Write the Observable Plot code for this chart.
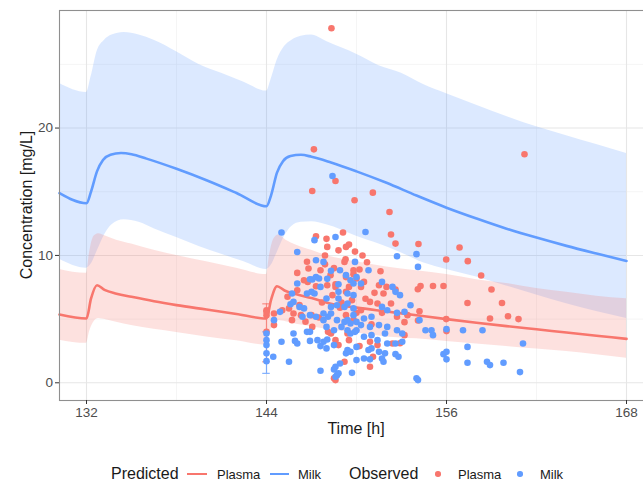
<!DOCTYPE html>
<html>
<head>
<meta charset="utf-8">
<script src="https://cdn.jsdelivr.net/npm/d3@7"></script>
<script src="https://cdn.jsdelivr.net/npm/@observablehq/plot@0.6"></script>
<style>
  html, body { margin: 0; padding: 0; background: #fff; overflow: hidden; }
  #wrap { position: relative; width: 643px; height: 483px; overflow: hidden; font-family: "Liberation Sans", Arial, sans-serif; color: #1a1a1a; }
  #wrap svg { position: absolute; left: 0; top: 0; max-width: none !important; }
  .abs { position: absolute; white-space: nowrap; line-height: 1; }
</style>
</head>
<body>
<div id="wrap"></div>
<script>
// ---- axis ticks ----
const xMajor = [132, 144, 156, 168];
const xMinor = [138, 150, 162];
const yMajor = [0, 10, 20];
const yMinor = [5, 15, 25];
const xDomain = [130.2, 169.8];
const yDomain = [-1.39, 29.23];

// ---- predicted Milk: prediction interval ----
const milkBandT  = [130.2, 132, 132.3, 132.7, 133.2, 133.7, 134.5, 135.5, 136.5, 138, 139.5, 141, 142.5, 144, 144.3, 144.7, 145.2, 145.7, 146.3, 147, 148, 149, 150, 151.5, 153, 154.5, 156, 158, 160, 162, 164, 166, 168];
const milkBandHi = [23.5, 22.8, 24.0, 26.0, 26.9, 27.3, 27.5, 27.3, 26.9, 26.0, 25.0, 24.3, 23.6, 22.9, 23.8, 25.3, 26.4, 26.9, 27.2, 27.3, 26.8, 26.3, 25.8, 24.9, 24.3, 23.4, 22.7, 21.8, 20.9, 20.1, 19.4, 18.7, 18.0];
const milkBandLo = [9.7, 9.0, 9.3, 10.3, 11.6, 12.4, 12.8, 12.6, 12.1, 11.4, 10.7, 10.1, 9.5, 8.9, 9.2, 10.2, 11.5, 12.3, 12.6, 12.65, 12.4, 12.0, 11.5, 10.9, 10.2, 9.4, 8.9, 8.3, 7.6, 6.9, 6.2, 5.6, 5.05];

// ---- predicted Plasma: prediction interval ----
const plasmaBandT  = [130.2, 132, 132.2, 132.5, 132.8, 133.3, 134, 135, 136.5, 138, 140, 142, 144, 144.2, 144.5, 144.8, 145.3, 146, 147, 148, 150, 152, 154, 156, 158, 160, 162, 164, 166, 168];
const plasmaBandHi = [8.9, 8.6, 10.2, 11.5, 11.7, 11.5, 11.2, 10.9, 10.4, 10.0, 9.5, 9.0, 8.5, 10.0, 11.3, 11.6, 11.2, 10.8, 10.4, 10.0, 9.5, 9.1, 8.8, 8.5, 8.1, 7.8, 7.4, 7.1, 6.8, 6.6];
const plasmaBandLo = [3.35, 3.1, 4.0, 4.8, 5.05, 4.95, 4.75, 4.5, 4.2, 3.95, 3.6, 3.3, 2.95, 3.9, 4.6, 4.9, 4.8, 4.6, 4.4, 4.2, 3.9, 3.6, 3.45, 3.25, 3.05, 2.85, 2.65, 2.45, 2.2, 1.93];

// ---- predicted medians ----
const milkLineT = [130.2, 132, 132.3, 132.7, 133.1, 133.6, 134.3, 135, 136, 138, 140, 142, 144, 144.3, 144.7, 145.1, 145.6, 146.3, 147, 148.3, 150, 152, 154, 156, 158, 160, 162, 164, 166, 168];
const milkLineC = [14.9, 14.1, 15.0, 16.6, 17.5, 17.9, 18.04, 17.95, 17.6, 16.8, 15.9, 14.9, 13.86, 14.7, 16.5, 17.4, 17.8, 17.9, 17.75, 17.3, 16.6, 15.7, 14.7, 13.75, 12.9, 12.1, 11.4, 10.75, 10.15, 9.57];
const plasmaLineT = [130.2, 132, 132.3, 132.7, 133.2, 134, 135, 136.5, 138, 140, 142, 144, 144.3, 144.7, 145.2, 146, 147, 148.3, 150, 152, 154, 156, 158, 160, 162, 164, 166, 168];
const plasmaLineC = [5.36, 5.05, 6.6, 7.66, 7.3, 7.0, 6.75, 6.4, 6.1, 5.75, 5.4, 5.05, 6.5, 7.58, 7.25, 6.95, 6.65, 6.2, 5.9, 5.6, 5.3, 5.0, 4.72, 4.45, 4.2, 3.95, 3.7, 3.45];

// ---- observed: error bars at trough ----
const errT = [144, 144];
const errLo = [1.65, 0.74];
const errHi = [6.2, 4.0];
const errGroup = ["Plasma", "Milk"];

// ---- observed Plasma [time h, conc mg/L] ----
const plasmaObs = [
[144.0,5.7],[144.0,5.3],[144.0,4.0],[144.0,5.57],
[144.5,5.44],[144.5,4.53],[145.05,5.7],[145.4,6.75],[145.5,5.84],[145.8,5.44],[145.7,4.92],[146.05,7.27],[146.3,5.31],[146.5,8.05],[146.05,8.63],[146.7,9.5],[146.8,8.97],[146.75,7.92],[147.0,5.31],[147.05,4.39],[147.05,15.06],[147.16,18.33],[147.3,11.5],[147.3,7.58],[147.5,5.13],[147.6,8.84],[147.9,10.0],[148.05,10.67],[148.05,7.66],[148.1,4.0],[148.27,8.45],[148.3,3.87],[148.33,27.84],[148.4,6.88],[148.5,0.35],[148.6,15.84],[148.6,7.53],[148.6,7.74],[148.6,3.35],[148.6,0.21],[148.8,10.4],[148.8,2.96],[149.2,9.49],[149.27,9.7],[149.2,1.65],[149.3,10.67],[149.3,8.3],[149.3,7.14],[149.3,5.31],[149.4,3.87],[149.5,10.85],[149.5,7.53],[149.5,3.35],[149.7,6.49],[149.8,8.84],[149.8,8.53],[149.8,4.92],[149.87,14.33],[150.0,8.19],[150.0,5.49],[150.2,2.88],[150.3,5.7],[150.3,7.53],[150.5,7.92],[150.7,9.47],[150.9,6.35],[150.9,3.22],[150.9,1.26],[151.09,14.93],[151.1,2.04],[151.2,7.06],[151.4,6.23],[151.4,2.96],[151.5,7.66],[151.6,8.76],[151.7,5.49],[151.8,7.01],[152.0,7.53],[152.2,13.41],[152.3,11.64],[152.3,6.23],[152.4,3.09],[152.6,10.93],[152.6,7.32],[152.7,5.18],[152.9,3.1],[153.2,4.76],[153.2,3.74],[153.4,5.31],[154.09,7.35],[154.1,4.89],[154.13,10.9],[154.2,5.62],[154.27,7.6],[155.1,7.6],[155.8,7.6],[155.98,9.68],[155.98,5.0],[156.0,4.06],[156.87,10.62],[157.4,6.27],[157.42,9.55],[158.31,8.42],[158.9,5.05],[159.0,7.32],[159.7,6.27],[160.1,5.23],[160.8,5.0],[161.2,17.94],
[146.2,6.1],[147.7,6.3],[148.9,5.9],[149.0,6.3],[150.6,6.6],[151.0,4.6],[146.6,4.8],[147.9,9.3],[148.5,9.0],[150.2,8.9],[149.9,10.3],[148.0,11.3],[149.1,11.8],[150.4,10.0]
];

// ---- observed Milk [time h, conc mg/L] ----
const milkObs = [
[144.0,3.87],[144.0,3.35],[144.0,2.96],[144.0,2.31],[144.0,1.7],
[144.45,2.04],[144.5,4.92],[144.9,5.57],[145.0,11.8],[145.0,3.22],[145.5,1.65],[145.6,6.17],[145.7,7.01],[145.8,6.35],[145.8,3.87],[145.9,3.29],[146.05,10.27],[146.05,7.8],[146.05,3.09],[146.2,5.96],[146.4,5.18],[146.5,5.84],[146.7,7.01],[146.7,4.0],[146.9,8.13],[146.9,5.31],[146.9,4.0],[146.9,3.29],[147.0,7.14],[147.05,8.11],[147.2,11.2],[147.2,7.01],[147.3,9.62],[147.3,8.31],[147.3,5.18],[147.4,3.35],[147.5,8.19],[147.6,7.53],[147.6,2.88],[147.6,0.94],[147.8,9.49],[147.8,4.92],[147.8,5.44],[147.8,3.22],[148.0,6.62],[148.0,4.39],[148.0,2.7],[148.05,8.16],[148.05,3.4],[148.1,5.18],[148.3,8.79],[148.3,5.96],[148.3,5.44],[148.4,16.24],[148.5,4.13],[148.5,2.96],[148.5,1.05],[148.6,11.45],[148.6,1.25],[148.6,0.47],[148.7,6.09],[148.7,4.92],[148.7,0.6],[148.8,7.74],[148.8,7.14],[148.8,6.62],[148.8,0.74],[148.9,8.84],[148.9,1.52],[149.0,4.39],[149.2,5.96],[149.2,4.78],[149.3,8.45],[149.3,2.31],[149.4,7.01],[149.4,6.23],[149.4,4.92],[149.4,4.13],[149.4,2.57],[149.6,8.05],[149.6,4.66],[149.6,3.87],[149.6,2.43],[149.7,0.78],[149.8,7.8],[149.8,6.88],[149.8,5.84],[149.8,5.31],[149.9,9.49],[149.9,4.0],[150.0,8.31],[150.0,4.78],[150.0,4.13],[150.0,2.82],[150.0,1.78],[150.3,7.8],[150.3,4.53],[150.5,5.05],[150.5,3.61],[150.5,1.91],[150.6,11.84],[150.8,8.84],[150.8,2.57],[150.9,4.39],[150.9,1.84],[151.0,5.18],[151.0,3.74],[151.0,2.7],[151.4,3.35],[151.5,4.53],[151.5,2.43],[151.7,7.92],[151.7,5.96],[151.7,1.91],[151.8,1.65],[151.9,3.87],[151.9,2.31],[152.05,5.7],[152.05,4.39],[152.05,3.09],[152.4,7.53],[152.6,7.14],[152.6,3.09],[152.6,2.25],[152.7,9.94],[152.7,5.49],[152.7,4.13],[152.8,2.04],[152.9,6.88],[153.05,3.87],[153.05,3.22],[153.2,5.57],[153.6,6.09],[154.0,10.1],[154.0,0.35],[154.1,9.1],[154.1,0.21],[154.2,4.92],[154.6,4.13],[155.0,4.13],[155.1,3.74],[155.8,2.25],[156.0,4.21],[156.0,2.43],[156.0,1.84],[157.1,4.13],[157.4,2.82],[157.4,1.57],[158.4,4.13],[158.7,1.65],[158.9,1.39],[159.8,1.57],[160.9,0.84],[161.1,3.09]
];

// ---- legend / labels ----
const xTitle = "Time [h]";
const yTitle = "Concentration [mg/L]";
const legendPredTitle = "Predicted";
const legendObsTitle = "Observed";
const groups = ["Plasma", "Milk"];
const colors = {Plasma: "#F8766D", Milk: "#619CFF"};

// ---- build tables ----
const milkBand = milkBandT.map((t, i) => ({t, lo: milkBandLo[i], hi: milkBandHi[i]}));
const plasmaBand = plasmaBandT.map((t, i) => ({t, lo: plasmaBandLo[i], hi: plasmaBandHi[i]}));
const milkLine = milkLineT.map((t, i) => ({t, c: milkLineC[i]}));
const plasmaLine = plasmaLineT.map((t, i) => ({t, c: plasmaLineC[i]}));
const errBars = errT.map((t, i) => ({t, lo: errLo[i], hi: errHi[i], g: errGroup[i]}));
const pObs = plasmaObs.map(([t, c]) => ({t, c}));
const mObs = milkObs.map(([t, c]) => ({t, c}));

const chart = Plot.plot({
  width: 660,
  height: 445,
  marginLeft: 59,
  marginRight: 7,
  marginTop: 10,
  marginBottom: 45,
  x: {domain: xDomain},
  y: {domain: yDomain},
  style: {fontFamily: '"Liberation Sans", Arial, sans-serif', fontSize: "13.5px", color: "#4d4d4d", background: "white", overflow: "visible", maxWidth: "none"},
  marks: [
    Plot.gridX(xMinor, {stroke: "#f1f1f1", strokeOpacity: 1, strokeWidth: 0.7}),
    Plot.gridY(yMinor, {stroke: "#f1f1f1", strokeOpacity: 1, strokeWidth: 0.7}),
    Plot.gridX(xMajor, {stroke: "#e6e6e6", strokeOpacity: 1, strokeWidth: 1.1}),
    Plot.gridY(yMajor, {stroke: "#e6e6e6", strokeOpacity: 1, strokeWidth: 1.1}),
    Plot.areaY(milkBand, {x: "t", y1: "lo", y2: "hi", fill: colors.Milk, fillOpacity: 0.22, curve: "monotone-x"}),
    Plot.areaY(plasmaBand, {x: "t", y1: "lo", y2: "hi", fill: colors.Plasma, fillOpacity: 0.22, curve: "monotone-x"}),
    Plot.line(milkLine, {x: "t", y: "c", stroke: colors.Milk, strokeWidth: 2.6, curve: "monotone-x"}),
    Plot.line(plasmaLine, {x: "t", y: "c", stroke: colors.Plasma, strokeWidth: 2.6, curve: "monotone-x"}),
    Plot.ruleX(errBars, {x: "t", y1: "lo", y2: "hi", stroke: d => colors[d.g], strokeWidth: 1.2, strokeOpacity: 0.8}),
    Plot.ruleY(errBars, {y: "lo", x1: d => d.t - 0.25, x2: d => d.t + 0.25, stroke: d => colors[d.g], strokeWidth: 1.2, strokeOpacity: 0.8}),
    Plot.ruleY(errBars, {y: "hi", x1: d => d.t - 0.25, x2: d => d.t + 0.25, stroke: d => colors[d.g], strokeWidth: 1.2, strokeOpacity: 0.8}),
    Plot.dot(pObs, {x: "t", y: "c", r: 3.3, fill: colors.Plasma, stroke: "none"}),
    Plot.dot(mObs, {x: "t", y: "c", r: 3.3, fill: colors.Milk, stroke: "none"}),
    Plot.frame({stroke: "#8f8f8f", strokeWidth: 1.1}),
    Plot.axisX(xMajor, {tickSize: 4, tickPadding: 2.5, label: null, stroke: "#333", color: "#4d4d4d"}),
    Plot.axisY(yMajor, {tickSize: 4, tickPadding: 2.5, label: null, stroke: "#333", color: "#4d4d4d"})
  ]
});

const wrap = document.getElementById("wrap");
wrap.appendChild(chart);

function addText(txt, left, top, size, extra) {
  const s = document.createElement("div");
  s.className = "abs";
  s.textContent = txt;
  s.style.left = left + "px";
  s.style.top = top + "px";
  s.style.fontSize = size + "px";
  if (extra) Object.assign(s.style, extra);
  wrap.appendChild(s);
  return s;
}
// axis titles
addText(xTitle, 356, 429, 16, {transform: "translate(-50%,-50%)"});
addText(yTitle, 27, 205, 16, {transform: "translate(-50%,-50%) rotate(-90deg)"});

// legend
const ly = 474;
addText(legendPredTitle, 111, ly, 16, {transform: "translateY(-50%)"});
function addLineKey(left, w, color) {
  const d = document.createElement("div");
  Object.assign(d.style, {position: "absolute", left: left + "px", top: (ly - 1.3) + "px", width: w + "px", height: "2.6px", background: color});
  wrap.appendChild(d);
}
function addDotKey(cx, color) {
  const d = document.createElement("div");
  Object.assign(d.style, {position: "absolute", left: (cx - 2.8) + "px", top: (ly - 2.8) + "px", width: "5.6px", height: "5.6px", borderRadius: "50%", background: color});
  wrap.appendChild(d);
}
addLineKey(187, 20, colors.Plasma);
addText(groups[0], 217, ly, 13, {transform: "translateY(-50%)"});
addLineKey(270, 19, colors.Milk);
addText(groups[1], 298, ly, 13, {transform: "translateY(-50%)"});
addText(legendObsTitle, 349, ly, 16, {transform: "translateY(-50%)"});
addDotKey(438, colors.Plasma);
addText(groups[0], 458, ly, 13, {transform: "translateY(-50%)"});
addDotKey(520, colors.Milk);
addText(groups[1], 540, ly, 13, {transform: "translateY(-50%)"});
</script>
</body>
</html>
